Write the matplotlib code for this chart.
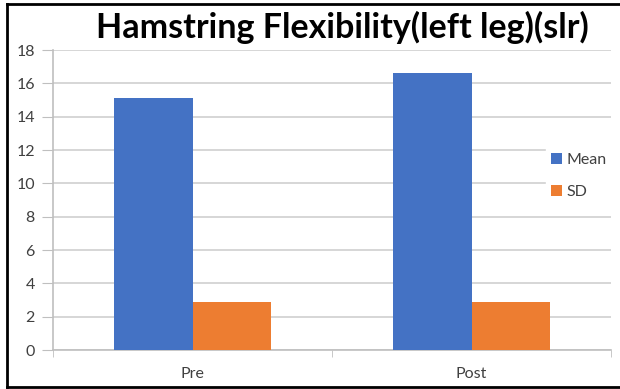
import numpy as np
import matplotlib.pyplot as plt
from matplotlib.lines import Line2D

groups = ["Pre", "Post"]
mean_vals = [15.1, 16.6]
sd_vals = [2.9, 2.9]
yticks = [0, 2, 4, 6, 8, 10, 12, 14, 16, 18]

plt.rcParams['font.family'] = ['Lato', 'DejaVu Sans']

fig = plt.figure(figsize=(6.2, 3.89), dpi=100)
ax = fig.add_axes([53 / 620, 1 - 350 / 389, 558 / 620, 300 / 389])

x = np.arange(len(groups))
w = 0.283
ax.bar(x - w / 2, mean_vals, w, color="#4472C4", label="Mean", zorder=3)
ax.bar(x + w / 2, sd_vals, w, color="#ED7D31", label="SD", zorder=3)

ax.set_xlim(-0.5, 1.5)
ax.set_ylim(0, 18)
ax.set_yticks(yticks)
ax.set_xticks(x)
ax.set_xticklabels(groups)
ax.set_xticks([-0.5, 0.5, 1.5], minor=True)
ax.tick_params(axis='x', which='major', length=0, pad=12, labelsize=11.5, labelcolor="#404040")
ax.tick_params(axis='x', which='minor', length=5, color="#bfbfbf", direction='out')
ax.tick_params(axis='y', length=8, color="#bfbfbf", labelsize=11.5, labelcolor="#404040", pad=5)
ax.grid(axis='y', color="#d0d0d0", linewidth=1.2, zorder=0)
for s in ['top', 'right']:
    ax.spines[s].set_visible(False)
ax.spines['left'].set_color("#bfbfbf")
ax.spines['bottom'].set_color("#bfbfbf")
ax.spines['left'].set_linewidth(1.2)
ax.spines['bottom'].set_linewidth(1.2)

fig.text(342 / 620, 1 - 27 / 389, "Hamstring Flexibility(left leg)(slr)",
         ha='center', va='center', fontsize=24.5, fontweight='bold', color="#000000")

leg = fig.legend(loc='center left', bbox_to_anchor=(538 / 620, 1 - 176 / 389),
                 frameon=True, fancybox=False, edgecolor='white', facecolor='white',
                 framealpha=1, fontsize=11.5, handlelength=0.7, handleheight=0.7,
                 handletextpad=0.3, labelspacing=1.1, borderpad=0.3)
for t in leg.get_texts():
    t.set_color("#404040")

# frame on left, top and bottom
fx0, fx1 = 7 / 620, 1.0
fy0, fy1 = 1 - 387 / 389, 1 - 4 / 389
for xs, ys in [([fx0, fx0], [fy0, fy1]), ([fx0, fx1], [fy1, fy1]), ([fx0, fx1], [fy0, fy0])]:
    fig.add_artist(Line2D(xs, ys, transform=fig.transFigure, color='black', linewidth=2))

fig.savefig("out.png", dpi=100)
